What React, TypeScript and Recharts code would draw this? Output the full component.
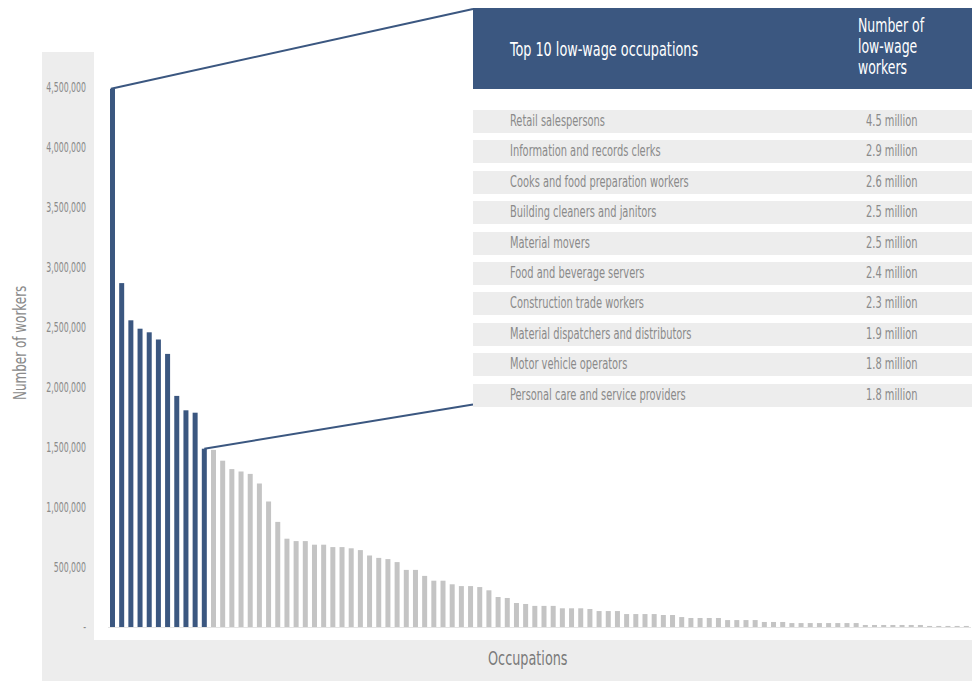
import { Bar, BarChart, XAxis, YAxis } from "recharts";

const topOccupations = [
  "Retail salespersons",
  "Information and records clerks",
  "Cooks and food preparation workers",
  "Building cleaners and janitors",
  "Material movers",
  "Food and beverage servers",
  "Construction trade workers",
  "Material dispatchers and distributors",
  "Motor vehicle operators",
  "Personal care and service providers",
];

// navy bars (largest low-wage occupations)
const highlightedWorkers = [
  4490000, 2870000, 2560000, 2490000, 2460000, 2400000, 2280000, 1930000,
  1810000, 1790000, 1490000,
];

// remaining occupations, grey
const otherWorkers = [
  1480000, 1390000, 1320000, 1300000, 1280000, 1200000, 1050000, 880000,
  740000, 720000, 720000, 690000, 690000, 670000, 670000, 660000, 645000,
  600000, 580000, 570000, 545000, 480000, 480000, 430000, 390000, 390000,
  360000, 345000, 345000, 337000, 310000, 254000, 246000, 204000, 196000,
  180000, 180000, 180000, 160000, 160000, 160000, 154000, 137000, 137000,
  137000, 112000, 112000, 112000, 112000, 104000, 104000, 87000, 79000,
  79000, 79000, 79000, 62000, 62000, 62000, 62000, 46000, 46000, 46000,
  37000, 37000, 37000, 37000, 37000, 37000, 37000, 37000, 21000, 21000,
  21000, 21000, 21000, 21000, 21000, 13000, 13000, 13000, 13000, 13000,
];

const yTicks = [
  0, 500000, 1000000, 1500000, 2000000, 2500000, 3000000, 3500000, 4000000,
  4500000,
];

const NAVY = "#3b5780";
const GREY_BAR = "#c4c4c4";
const PANEL = "#ededed";
const TEXT = "#8a8a8a";
const FONT =
  "'Liberation Sans Narrow', 'DejaVu Sans Condensed', 'Roboto Condensed', Roboto, sans-serif";

// callout table geometry
const TABLE_LEFT = 473;
const HEADER_TOP = 8;
const HEADER_HEIGHT = 81;
const ROW_TOP = 110;
const ROW_PITCH = 30.4;
const ROW_HEIGHT = 23;

const data = [
  ...highlightedWorkers.map((workers, i) => ({
    id: `h${i + 1}`,
    workers,
    highlight: true,
  })),
  ...otherWorkers.map((workers, i) => ({
    id: `o${i + 1}`,
    workers,
    highlight: false,
  })),
];

const toMillions = (v: number) => `${(v / 1e6).toFixed(1)} million`;

function Narrow({ scale, children }: { scale: number; children: any }) {
  return (
    <span
      style={{
        display: "inline-block",
        whiteSpace: "nowrap",
        transform: `scaleX(${scale})`,
        transformOrigin: "left center",
      }}
    >
      {children}
    </span>
  );
}

function WorkerTick(props: any) {
  const { y, payload } = props;
  const label =
    payload.value === 0 ? "-" : Number(payload.value).toLocaleString("en-US");
  return (
    <text
      transform={`translate(86 ${y}) scale(0.62 1)`}
      textAnchor="end"
      dominantBaseline="central"
      fontSize={14}
      fill={TEXT}
      fontFamily={FONT}
    >
      {label}
    </text>
  );
}

function OccupationBar(props: any) {
  const { x, y, width, height, payload } = props;
  let connector = null;
  if (payload.id === "h1") {
    connector = (
      <line
        x1={x + 1}
        y1={y}
        x2={TABLE_LEFT}
        y2={HEADER_TOP + 1}
        stroke={NAVY}
        strokeWidth={2}
      />
    );
  } else if (payload.id === "h11") {
    connector = (
      <line
        x1={x + width / 2}
        y1={y}
        x2={TABLE_LEFT}
        y2={ROW_TOP + 9 * ROW_PITCH + ROW_HEIGHT - 2}
        stroke={NAVY}
        strokeWidth={2}
      />
    );
  }
  return (
    <g>
      <rect
        x={x}
        y={y}
        width={width}
        height={height}
        fill={payload.highlight ? NAVY : GREY_BAR}
      />
      {connector}
    </g>
  );
}

export default function App() {
  return (
    <div
      style={{
        position: "absolute",
        left: 0,
        top: 0,
        width: 972,
        height: 681,
        background: "#fff",
        overflow: "hidden",
        fontFamily: FONT,
      }}
    >
      <div
        style={{
          position: "absolute",
          left: 42,
          top: 52,
          width: 930,
          height: 629,
          background: PANEL,
        }}
      />
      <div
        style={{
          position: "absolute",
          left: 94,
          top: 52,
          width: 878,
          height: 588,
          background: "#fff",
        }}
      />

      <div style={{ position: "absolute", left: 0, top: 0 }}>
        <BarChart
          width={972}
          height={681}
          data={data}
          margin={{ top: 87.5, right: 1, bottom: 23.5, left: 0 }}
          barSize={5}
        >
          <XAxis
            dataKey="id"
            height={30}
            tick={false}
            tickLine={false}
            axisLine={{ stroke: "#e4e4e4" }}
          />
          <YAxis
            width={108}
            domain={[0, 4500000]}
            ticks={yTicks}
            interval={0}
            axisLine={false}
            tickLine={false}
            tick={<WorkerTick />}
          />
          <Bar
            dataKey="workers"
            shape={(p: any) => <OccupationBar {...p} />}
            isAnimationActive={false}
          />
        </BarChart>
      </div>

      {/* axis titles */}
      <div
        style={{
          position: "absolute",
          left: 20,
          top: 345,
          width: 0,
          height: 0,
        }}
      >
        <div
          style={{
            position: "absolute",
            left: -55,
            top: -11,
            width: 110,
            lineHeight: "22px",
            transform: "rotate(-90deg)",
            transformOrigin: "55px 11px",
            fontSize: 18,
            color: TEXT,
          }}
        >
          <Narrow scale={0.74}>Number of workers</Narrow>
        </div>
      </div>
      <div
        style={{
          position: "absolute",
          left: 488,
          top: 647,
          fontSize: 19,
          color: "#7a7a7a",
          whiteSpace: "nowrap",
        }}
      >
        <Narrow scale={0.75}>Occupations</Narrow>
      </div>

      {/* callout table */}
      <div
        style={{
          position: "absolute",
          left: TABLE_LEFT,
          top: HEADER_TOP,
          width: 972 - TABLE_LEFT,
          height: HEADER_HEIGHT,
          background: NAVY,
          color: "#fff",
          fontSize: 19,
        }}
      >
        <div style={{ position: "absolute", left: 37, top: 30 }}>
          <Narrow scale={0.75}>Top 10 low-wage occupations</Narrow>
        </div>
        <div style={{ position: "absolute", left: 385, top: 7, lineHeight: "21px" }}>
          <div><Narrow scale={0.73}>Number of</Narrow></div>
          <div><Narrow scale={0.73}>low-wage</Narrow></div>
          <div><Narrow scale={0.73}>workers</Narrow></div>
        </div>
      </div>
      {topOccupations.map((name, i) => (
        <div
          key={name}
          style={{
            position: "absolute",
            left: TABLE_LEFT,
            top: ROW_TOP + i * ROW_PITCH,
            width: 972 - TABLE_LEFT,
            height: ROW_HEIGHT,
            lineHeight: `${ROW_HEIGHT}px`,
            background: PANEL,
            color: TEXT,
            fontSize: 15,
          }}
        >
          <div style={{ position: "absolute", left: 37, top: 0 }}>
            <Narrow scale={0.73}>{name}</Narrow>
          </div>
          <div style={{ position: "absolute", left: 393, top: 0 }}>
            <Narrow scale={0.73}>{toMillions(highlightedWorkers[i])}</Narrow>
          </div>
        </div>
      ))}
    </div>
  );
}
